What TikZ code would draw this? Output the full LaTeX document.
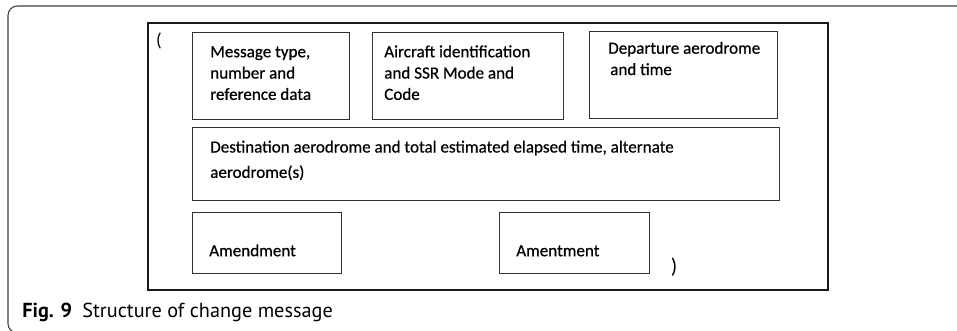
\documentclass[tikz,border=0pt]{standalone}
\usepackage{fontspec}
\setmainfont{Carlito}
\newfontfamily\campofont[FakeBold=0.6]{Carlito}
\newfontfamily\didafont{PT Sans}
\def\px{0.75pt}
\tikzset{
	cornice/.style={draw=black!75, line width=0.8pt},
	messaggio/.style={draw=black!90, line width=1.3pt},
	campo/.style={draw=black!80, line width=1pt, anchor=north west, inner sep=0pt},
	testo/.style={anchor=north west, inner sep=0pt, align=left,
		font=\campofont\fontsize{12.8}{16}\selectfont},
	parentesi/.style={inner sep=0pt, font=\fontsize{14}{16}\selectfont}
}
\begin{document}
\begin{tikzpicture}[x=0.75pt,y=-0.75pt]
	\useasboundingbox (0,0) rectangle (957,330);
	\clip (0,0) rectangle (957,330);
	% cornice della figura
	\draw[cornice,rounded corners=7] (8,6) rectangle (990,333);
	% messaggio
	\draw[messaggio] (148,23) rectangle (828,290);
	\node[parentesi] (apri) at (159,40.5) {(};
	\node[parentesi,font=\fontsize{16}{18}\selectfont] (chiudi) at (674,267.5) {)};
	% campi
	\node[campo,minimum width=157*\px,minimum height=87*\px] (tipo) at (192,32) {};
	\node[campo,minimum width=191*\px,minimum height=87*\px] (aereo) at (372,32) {};
	\node[campo,minimum width=188*\px,minimum height=87*\px] (partenza) at (589,31) {};
	\node[campo,minimum width=587*\px,minimum height=73*\px] (destinazione) at (192,127) {};
	\node[campo,minimum width=149*\px,minimum height=61*\px] (modifica) at (192,212) {};
	\node[campo,minimum width=150*\px,minimum height=61*\px] (modifica2) at (499,212) {};
	% testi
	\node[testo] (tipot) at ([shift={(18,10)}]tipo.north west)
		{\strut Message type,\\number and\\reference data};
	\node[testo] (aereot) at ([shift={(12,10)}]aereo.north west)
		{\strut Aircraft identification\\and SSR Mode and\\Code};
	\node[testo] (partenzat) at ([shift={(19,7.5)}]partenza.north west)
		{\strut Departure aerodrome\\\hspace*{1.5pt}and time};
	\node[testo,font=\campofont\fontsize{12.8}{19}\selectfont] (destinazionet)
		at ([shift={(18,7.5)}]destinazione.north west)
		{\strut Destination aerodrome and total estimated elapsed time, alternate\\aerodrome(s)};
	\node[testo] (modificat) at ([shift={(17,29)}]modifica.north west) {\strut Amendment};
	\node[testo] (modifica2t) at ([shift={(17,29)}]modifica2.north west) {\strut Amentment};
	% didascalia
	\node[anchor=base west,inner sep=0pt,font=\didafont\fontsize{15.2}{18}\selectfont] (dida)
		at (22,317.5) {\textbf{Fig. 9}\hspace{0.5em}Structure of change message};
\end{tikzpicture}
\end{document}
